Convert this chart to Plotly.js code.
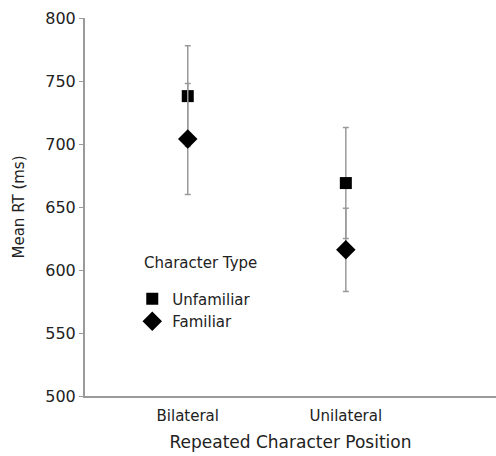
<!DOCTYPE html>
<html>
<head>
<meta charset="utf-8">
<script src="https://cdn.plot.ly/plotly-3.0.1.min.js"></script>
<style>html,body{margin:0;padding:0;background:#fff}#chart{width:496px;height:456px}</style>
</head>
<body>
<div id="chart"></div>
<script>
const positions = ["Bilateral", "Unilateral"];
const unfamiliarMean = [738, 669];
const unfamiliarErr = [40, 44];
const familiarMean = [704, 616];
const familiarErr = [44, 33];
const yTicks = [500, 550, 600, 650, 700, 750, 800];
const legendTitle = "Character Type";

const font = "DejaVu Sans, sans-serif";
const errStyle = {type: "data", visible: true, color: "#9a9a9a", thickness: 1.5, width: 3};

const traces = [
  {
    name: "Unfamiliar", x: positions, y: unfamiliarMean, type: "scatter", mode: "markers",
    marker: {symbol: "square", size: 12, color: "#000"},
    error_y: Object.assign({array: unfamiliarErr}, errStyle)
  },
  {
    name: "Familiar", x: positions, y: familiarMean, type: "scatter", mode: "markers",
    marker: {symbol: "diamond", size: 15, color: "#000"},
    error_y: Object.assign({array: familiarErr}, errStyle)
  }
];

const layout = {
  width: 496, height: 456,
  margin: {l: 85, r: 0, t: 18, b: 60},
  paper_bgcolor: "#fff", plot_bgcolor: "#fff",
  font: {family: font, color: "#222", size: 15},
  showlegend: true,
  legend: {
    x: 0.115, y: 0.30, xanchor: "left", yanchor: "top",
    font: {size: 15, family: font}, tracegroupgap: 0, itemsizing: "trace",
    bgcolor: "rgba(0,0,0,0)"
  },
  annotations: [{
    text: legendTitle, xref: "paper", yref: "paper", x: 0.138, y: 0.352,
    xanchor: "left", yanchor: "middle", showarrow: false,
    font: {size: 15, family: font, color: "#222"}
  }],
  xaxis: {
    type: "category", range: [-0.65, 1.95],
    showline: true, linecolor: "#9a9a9a", linewidth: 2,
    showgrid: false, zeroline: false, ticks: "",
    ticklabelstandoff: 5,
    tickfont: {size: 15, family: font},
    title: {text: "Repeated Character Position", font: {size: 17, family: font}, standoff: 12}
  },
  yaxis: {
    range: [500, 800], tickvals: yTicks,
    showline: true, linecolor: "#9a9a9a", linewidth: 2,
    showgrid: false, zeroline: false,
    ticks: "outside", ticklen: 4, tickcolor: "#9a9a9a", tickwidth: 1,
    tickfont: {size: 16, family: font},
    title: {text: "Mean RT (ms)", font: {size: 15, family: font}, standoff: 17}
  }
};

Plotly.newPlot("chart", traces, layout, {displayModeBar: false, staticPlot: true});
</script>
</body>
</html>
